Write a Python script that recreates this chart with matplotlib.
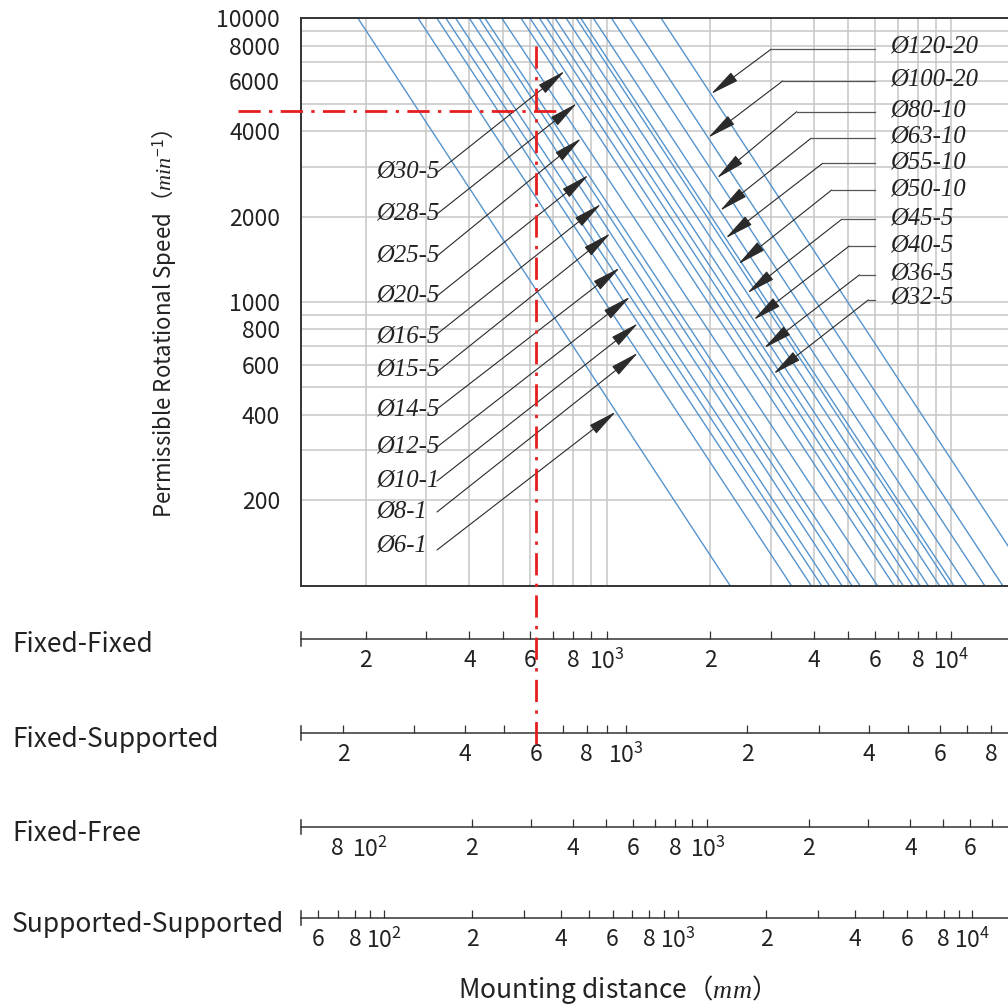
import numpy as np
import matplotlib
matplotlib.use("Agg")
import matplotlib.pyplot as plt
from matplotlib.lines import Line2D
from matplotlib.transforms import blended_transform_factory, IdentityTransform
from matplotlib.ticker import FixedLocator, FixedFormatter, NullLocator, FuncFormatter

plt.rcParams["mathtext.fontset"] = "custom"
plt.rcParams["mathtext.rm"] = "Noto Sans CJK JP"
plt.rcParams["mathtext.it"] = "Liberation Serif:italic"

SANS = "Noto Sans CJK JP"
SERIF = "Liberation Serif"

# ---------------- data ----------------
# screw shaft (diameter - lead), ordered from the slowest to the fastest curve
screw_labels = ["Ø6-1", "Ø8-1", "Ø10-1", "Ø12-5", "Ø14-5", "Ø15-5", "Ø16-5",
                "Ø20-5", "Ø25-5", "Ø28-5", "Ø30-5", "Ø32-5", "Ø36-5", "Ø40-5",
                "Ø45-5", "Ø50-10", "Ø55-10", "Ø63-10", "Ø80-10", "Ø100-20",
                "Ø120-20"]
# mounting distance (mm, fixed-fixed scale) where each curve reaches 10000 and 100 min-1
length_at_10000 = [190, 284, 322, 342, 365, 400, 427, 444, 497, 565, 600, 639,
                   671, 709, 764, 817, 842, 916, 1034, 1166, 1440]
length_at_100 = [2280, 3434, 3920, 4202, 4423, 4811, 5144, 5429, 6100, 6818, 7240,
                 7717, 8113, 8561, 9234, 9865, 10167, 11066, 12490, 14084, 17376]

speed_labels = [200, 400, 600, 800, 1000, 2000, 4000, 6000, 8000, 10000]
speed_grid = [m * 10 ** e for e in (2, 3) for m in range(1, 10)] + [10000]

# support-condition scales (tick values and tick label texts)
ff_ticks = [m * 100 for m in range(2, 10)] + [m * 1000 for m in range(1, 10)] + [10000]
ff_labels = ["2", "", "4", "", "6", "", "8", "", r"$\mathregular{10^3}$",
             "2", "", "4", "", "6", "", "8", "", r"$\mathregular{10^4}$"]
fs_ticks = [m * 100 for m in range(2, 10)] + [m * 1000 for m in range(1, 9)]
fs_labels = ["2", "", "4", "", "6", "", "8", "", r"$\mathregular{10^3}$",
             "2", "", "4", "", "6", "", "8"]
fr_ticks = [80, 100] + [m * 100 for m in range(2, 10)] + [m * 1000 for m in range(1, 8)]
fr_labels = ["8", r"$\mathregular{10^2}$", "2", "", "4", "", "6", "", "8", "",
             r"$\mathregular{10^3}$", "2", "", "4", "", "6", ""]
fr_label_only = [80, 100]
ss_ticks = [60, 70, 80, 90, 100] + [m * 100 for m in range(2, 10)] + \
           [m * 1000 for m in range(1, 10)] + [10000]
ss_labels = ["6", "", "8", "", r"$\mathregular{10^2}$",
             "2", "", "4", "", "6", "", "8", "", r"$\mathregular{10^3}$",
             "2", "", "4", "", "6", "", "8", "", r"$\mathregular{10^4}$"]

ref_length_fs = 600      # mm on the fixed-supported scale
ref_speed = 4700         # min-1
ref_speed_top = 8000

# ---------------- layout ----------------
W, H = 1008, 1005
fig = plt.figure(figsize=(W / 100, H / 100), dpi=100)


def fx(px):
    return px / W


def fy(py):
    return 1 - py / H


BLUE = "#5594cd"
GRID = "#c6c6c6"
RED = "#e61e1e"
INK = "#333333"
TEXT = "#222222"

AX_L, AX_R, AX_T, AX_B = 301, 1008, 18.4, 585.5
ax = fig.add_axes([fx(AX_L), fy(AX_B), fx(AX_R - AX_L), (AX_B - AX_T) / H])
ax.set_xscale("log")
ax.set_yscale("log")
ax.set_xlim(129.8, 14601)
ax.set_ylim(100, 10000)

ax.xaxis.set_major_locator(FixedLocator(ff_ticks))
ax.xaxis.set_minor_locator(NullLocator())
ax.yaxis.set_major_locator(FixedLocator(speed_grid))
ax.yaxis.set_minor_locator(NullLocator())
ax.yaxis.set_major_formatter(FuncFormatter(
    lambda v, p: f"{int(round(v))}" if int(round(v)) in speed_labels else ""))
ax.tick_params(axis="x", length=0, labelbottom=False)
ax.tick_params(axis="y", length=0, pad=15, labelsize=16.5, labelcolor=TEXT)
for t in ax.get_yticklabels():
    t.set_fontfamily(SANS)
ax.grid(True, which="major", color=GRID, lw=1.1)
ax.set_axisbelow(True)
for side in ("left", "top", "bottom"):
    ax.spines[side].set_color(INK)
    ax.spines[side].set_linewidth(1.4)
ax.spines["right"].set_visible(False)

# speed curves
for lt, lb in zip(length_at_10000, length_at_100):
    ax.plot([lt, lb], [10000, 100], color=BLUE, lw=1.0, zorder=2)


def length_on_curve(i, n):
    lt, lb = np.log10(length_at_10000[i]), np.log10(length_at_100[i])
    frac = (4 - np.log10(n)) / 2
    return 10 ** (lt + frac * (lb - lt))


# support-condition scales: (name, line y, xlim, ticks, labels, label-only)
scales = [
    ("Fixed-Fixed", 639, (129.8, 14601), ff_ticks, ff_labels, []),
    ("Fixed-Supported", 733, (157.3, 8821), fs_ticks, fs_labels, []),
    ("Fixed-Free", 827, (62.25, 7789), fr_ticks, fr_labels, fr_label_only),
    ("Supported-Supported", 918, (52.35, 13249), ss_ticks, ss_labels, []),
]
scale_axes = {}
for name, ly, lim, ticks, labels, label_only in scales:
    bax = fig.add_axes([fx(AX_L), fy(ly + 7), fx(AX_R - AX_L), 14 / H])
    bax.set_xscale("log")
    bax.set_xlim(*lim)
    bax.set_ylim(0, 1)
    bax.patch.set_visible(False)
    bax.spines["top"].set_visible(False)
    bax.spines["right"].set_visible(False)
    bax.spines["bottom"].set_position(("axes", 0.5))
    for side in ("bottom", "left"):
        bax.spines[side].set_color(INK)
        bax.spines[side].set_linewidth(1.1)
    bax.yaxis.set_visible(False)
    bax.xaxis.set_major_locator(FixedLocator(ticks))
    bax.xaxis.set_major_formatter(FixedFormatter(labels))
    bax.xaxis.set_minor_locator(NullLocator())
    bax.tick_params(axis="x", direction="in", length=6, width=0.9, color=INK,
                    pad=7, labelsize=16.5, labelcolor=TEXT)
    for t in bax.get_xticklabels():
        t.set_fontfamily(SANS)
    for tk, v in zip(bax.xaxis.get_major_ticks(), ticks):
        if v in label_only:
            tk.tick1line.set_visible(False)
    fig.text(fx(12), fy(ly + 6), name, ha="left", va="center",
             fontsize=19, family=SANS, color=TEXT)
    scale_axes[name] = bax

# axis titles
fig.text(fx(163), fy(324), "Permissible Rotational Speed（$\\mathit{min}^{\\mathit{-1}}$）",
         rotation=90, ha="center", va="center", fontsize=16, family=SANS, color=TEXT)
fig.text(fx(610), fy(989), "Mounting distance（$\\mathit{mm}$）",
         ha="center", va="center", fontsize=19, family=SANS, color=TEXT)

# reference reading (red dash-dot)
red_style = dict(color=RED, lw=2.0, linestyle=(0, (8, 3, 1.2, 3)))
ax.plot([85, 730], [ref_speed, ref_speed], clip_on=False, zorder=5, **red_style)
fig.canvas.draw()
y_top = ax.transData.transform((1000, ref_speed_top))[1]
y_bot = H - 750
vline = Line2D([ref_length_fs, ref_length_fs], [y_top, y_bot],
               transform=blended_transform_factory(scale_axes["Fixed-Supported"].transData,
                                                  IdentityTransform()),
               zorder=6, **red_style)
fig.add_artist(vline)

# curve labels with leaders
arrow_kw = dict(arrowstyle="-|>,head_length=1.3,head_width=0.24", color="#2a2a2a",
                lw=0.8, shrinkA=0, shrinkB=0, mutation_scale=14)
lead_kw = dict(color="#555555", lw=0.9)

# left-hand labels: (index, text centre y, leader start y, arrow-tip speed)
left_notes = [
    (10, 171.7, 172.5, 6523), (9, 213.3, 214, 5019), (8, 255, 256, 3778),
    (7, 295, 296, 2804), (6, 336.7, 334, 2216), (5, 370, 372, 1747),
    (4, 410, 409, 1321), (3, 446.7, 447, 1044), (2, 480, 481, 841),
    (1, 511.7, 512, 662.6), (0, 545, 550, 410.4),
]
for i, yc, ys, n_tip in left_notes:
    fig.text(fx(376), fy(yc), screw_labels[i], ha="left", va="center",
             fontsize=17.8, family=SERIF, style="italic", color=TEXT)
    ax.annotate("", xy=(length_on_curve(i, n_tip), n_tip), xycoords="data",
                xytext=(437, H - ys), textcoords="figure pixels",
                arrowprops=arrow_kw, annotation_clip=False)

# right-hand labels: (index, text centre y, leader y, knee x, arrow-tip speed)
right_notes = [
    (20, 46.7, 49.3, 771, 5413), (19, 79.3, 81, 782.7, 3796),
    (18, 110.7, 111.7, 796.7, 2731), (17, 136.7, 138.3, 811, 2098),
    (16, 162.7, 163.3, 822.7, 1677), (15, 189, 190, 831.7, 1358),
    (14, 218.3, 219.3, 841.7, 1073), (13, 245, 246, 849.3, 864),
    (12, 273.3, 275, 859.3, 686.7), (11, 297.3, 300, 868.3, 557.3),
]
for i, yc, yl, kx, n_tip in right_notes:
    fig.text(fx(890), fy(yc), screw_labels[i], ha="left", va="center",
             fontsize=17.8, family=SERIF, style="italic", color=TEXT)
    fig.add_artist(Line2D([fx(875), fx(kx)], [fy(yl), fy(yl)],
                          transform=fig.transFigure, **lead_kw))
    ax.annotate("", xy=(length_on_curve(i, n_tip), n_tip), xycoords="data",
                xytext=(kx, H - yl), textcoords="figure pixels",
                arrowprops=arrow_kw, annotation_clip=False)

fig.savefig("out.png", dpi=100, facecolor="white")
